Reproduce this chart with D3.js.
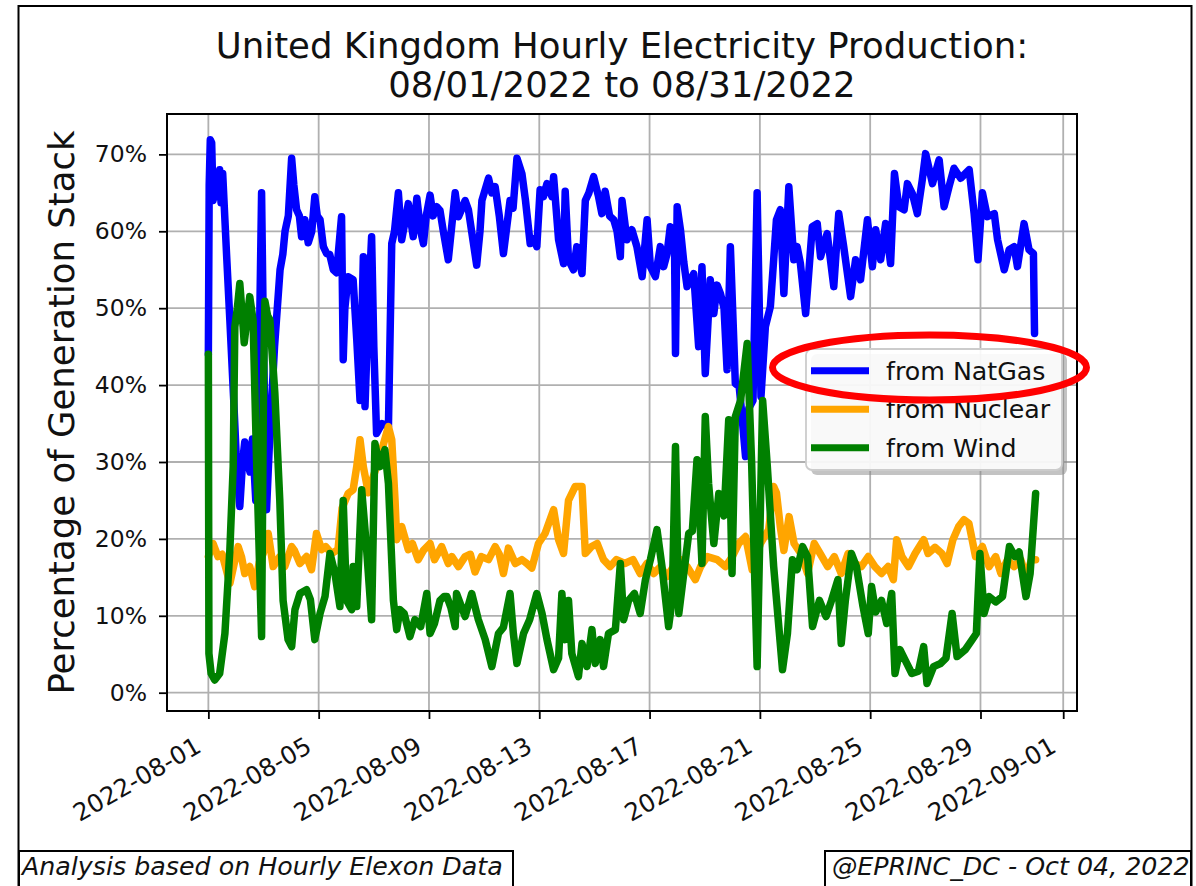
<!DOCTYPE html>
<html>
<head>
<meta charset="utf-8">
<script src="https://cdn.jsdelivr.net/npm/d3@7"></script>
<style>
body { margin: 0; background: #fff; }
svg { display: block; font-family: "DejaVu Sans", sans-serif; }
</style>
</head>
<body>
<script>

// [day since 2022-08-01 00:00 UTC, % of generation stack]
var natGas = [[0,44],[0.03,66],[0.07,71.9],[0.12,71.5],[0.17,64],[0.25,67],[0.3,64.5],[0.41,68],[0.46,63.7],[0.52,67.5],[0.66,57],[0.78,48.4],[0.92,38],[1.02,30],[1.14,24.2],[1.24,30],[1.32,32.6],[1.42,30],[1.51,28.7],[1.6,33],[1.72,25],[1.82,38],[1.93,65],[2.0,45],[2.11,23.8],[2.23,33.7],[2.4,45],[2.6,55],[2.7,57],[2.78,60],[2.9,62],[3.02,69.5],[3.1,66],[3.2,62.8],[3.3,62],[3.38,59.3],[3.5,61.5],[3.62,58.5],[3.75,60],[3.86,64.5],[3.95,62],[4.05,61.5],[4.17,58],[4.29,57.1],[4.4,57],[4.53,55],[4.65,54.6],[4.83,61.9],[4.89,43.3],[4.95,50],[5.07,54.1],[5.25,53.7],[5.38,46],[5.5,38],[5.62,56.7],[5.68,37.2],[5.8,50],[5.92,59.3],[6.0,45],[6.1,33.7],[6.3,35],[6.53,34.6],[6.65,58.4],[6.75,60],[6.89,65],[7.01,58.9],[7.12,61],[7.25,63.6],[7.43,59.3],[7.56,64.3],[7.7,60],[7.8,58.4],[7.9,62],[8.04,64.7],[8.15,62],[8.28,63.2],[8.4,62.7],[8.52,60],[8.7,56.3],[8.95,65],[9.07,61.9],[9.2,63],[9.31,64],[9.43,62.8],[9.73,55.6],[9.85,60],[9.92,64],[10.16,66.9],[10.28,65],[10.4,65.8],[10.55,62],[10.7,57.1],[10.94,64],[11.05,63],[11.19,69.5],[11.37,67.5],[11.5,64],[11.67,58.4],[11.8,59],[11.91,58],[12.03,65.4],[12.15,64.5],[12.28,66.2],[12.46,64.5],[12.52,67.1],[12.7,58.9],[12.88,55.8],[12.94,65.2],[13.06,56.3],[13.24,55],[13.36,58],[13.55,54.5],[13.67,64],[13.8,65],[13.97,67.1],[14.15,64.5],[14.27,62.3],[14.39,65.2],[14.55,62],[14.7,61.5],[14.82,60],[14.94,56.7],[15.0,64],[15.18,58.9],[15.36,60.2],[15.54,58],[15.73,54.1],[15.91,61.5],[16.03,55.4],[16.21,54.1],[16.39,58],[16.51,55.4],[16.63,57],[16.75,60.6],[16.9,60],[16.94,44.1],[17.0,63.2],[17.12,60.2],[17.24,56],[17.36,52.8],[17.6,54.5],[17.78,45],[17.9,55.4],[18.02,41.5],[18.2,53.7],[18.33,49.3],[18.45,53],[18.57,51.9],[18.7,50],[18.81,42],[18.93,58],[19.11,40.2],[19.25,39.8],[19.35,36],[19.48,30.7],[19.6,37],[19.75,38],[19.9,65],[20.04,38.5],[20.2,47.6],[20.38,50.2],[20.5,56.3],[20.6,61.5],[20.74,62.8],[20.87,51.9],[21.05,65.8],[21.23,56.3],[21.35,58],[21.47,55.8],[21.66,49.3],[21.9,60.6],[22.08,61],[22.2,56.7],[22.44,59.7],[22.68,52.8],[22.86,62.3],[23.04,58],[23.29,51.5],[23.47,56.3],[23.65,53.7],[23.9,61.5],[24.08,55.4],[24.2,60.2],[24.38,56.3],[24.56,61],[24.74,55.8],[24.88,67.5],[25.04,63.2],[25.23,62.8],[25.35,66.2],[25.53,64.9],[25.71,62.3],[25.89,66.7],[26.01,70.1],[26.26,66.2],[26.5,69.3],[26.68,63.2],[26.86,65.8],[27.04,68.2],[27.28,66.9],[27.59,68],[27.77,62.3],[27.91,56.3],[28.07,65],[28.25,61.9],[28.5,62.3],[28.62,58.9],[28.86,55],[29.04,57.6],[29.22,58],[29.34,55.4],[29.58,61],[29.76,57.6],[29.92,57.1],[29.96,46.7]];

var nuclear = [[0,17.7],[0.17,19.4],[0.35,17.7],[0.5,18],[0.65,16],[0.78,14.2],[0.95,17],[1.08,19],[1.2,17.7],[1.32,15.5],[1.5,16.4],[1.68,13.8],[1.85,17],[1.99,18.1],[2.17,20.7],[2.35,16.4],[2.59,17.7],[2.77,16.4],[3.02,19],[3.12,18.5],[3.32,16.8],[3.56,17.7],[3.74,16],[3.92,20.7],[4.11,18.6],[4.25,19],[4.47,18.1],[4.7,18.6],[4.85,24],[5.07,25.9],[5.25,26.4],[5.38,29.4],[5.5,32.9],[5.62,29.4],[5.8,26],[5.98,28.1],[6.22,30.7],[6.53,34.6],[6.65,32.9],[6.77,25],[6.83,19.9],[7.01,21.6],[7.25,18.6],[7.4,19.4],[7.61,17.3],[7.8,18.5],[8.04,19.4],[8.2,17.3],[8.46,19],[8.7,16.8],[8.83,17.7],[9.07,16.4],[9.31,17.7],[9.5,18],[9.67,15.7],[9.9,17.7],[10.16,17.3],[10.4,19],[10.55,18],[10.7,15.5],[10.88,18.8],[11.13,16.8],[11.37,17.3],[11.55,16.8],[11.73,16.2],[11.97,19.4],[12.21,20.7],[12.52,23.8],[12.7,19.9],[12.88,18.1],[13.06,25],[13.3,26.8],[13.55,26.8],[13.67,18.1],[13.9,19],[14.1,19.4],[14.33,17.3],[14.57,16.4],[14.8,17.3],[15.1,16.8],[15.4,17.3],[15.66,15.5],[15.9,16.8],[16.15,15.5],[16.4,16.4],[16.63,15.1],[16.87,16.4],[17.12,17.3],[17.36,16.4],[17.66,14.7],[17.85,16.4],[18.09,17.7],[18.45,17.3],[18.75,16.4],[19.0,17.7],[19.23,19.4],[19.48,20.3],[19.72,16],[20.02,19.4],[20.32,21.2],[20.5,26.8],[20.6,26],[20.74,21.6],[20.87,18.5],[21.06,22.9],[21.24,19.4],[21.5,18],[21.73,15.5],[21.97,19.4],[22.2,18],[22.46,16.4],[22.7,17.7],[22.95,15.5],[23.2,18.1],[23.44,16.8],[23.68,16.4],[23.93,17.7],[24.17,16.4],[24.41,15.5],[24.65,16.4],[24.84,14.7],[24.96,19.9],[25.15,17.7],[25.39,16.4],[25.63,18.1],[25.94,19.9],[26.1,18.1],[26.35,18.9],[26.6,18.1],[26.79,16.8],[27.0,19.9],[27.21,21.6],[27.4,22.5],[27.58,22],[27.82,17.7],[28.07,19],[28.31,16.4],[28.55,17.7],[28.74,15.5],[28.98,17.3],[29.22,16.4],[29.46,17.3],[29.65,15.1],[29.85,17.3],[30,17.3]];

var wind = [[0,44],[0.02,5.1],[0.1,2.5],[0.23,1.65],[0.41,2.5],[0.6,7.7],[0.78,18.6],[0.9,29.4],[0.96,47.6],[1.05,50],[1.14,53.2],[1.26,47.6],[1.3,45.5],[1.5,51.5],[1.62,48.5],[1.75,30],[1.87,15],[1.93,7.3],[2.0,40],[2.05,50.9],[2.15,49],[2.23,48.5],[2.41,39],[2.59,25],[2.71,12],[2.89,6.9],[3.02,6],[3.14,10.8],[3.32,12.9],[3.56,13.4],[3.7,12.1],[3.86,6.9],[4.05,10.3],[4.23,12.5],[4.41,18.1],[4.59,15.5],[4.77,11.2],[4.89,25],[5.01,12],[5.2,10.8],[5.25,16.4],[5.38,11.2],[5.56,26.4],[5.74,18.6],[5.92,9.5],[6.04,32.4],[6.22,29.4],[6.4,31.6],[6.53,27.2],[6.71,12],[6.83,8.2],[6.95,10.8],[7.1,10.3],[7.31,7.3],[7.49,9.5],[7.7,8.6],[7.92,12.9],[8.04,7.7],[8.2,9],[8.4,12],[8.55,12.5],[8.65,12.5],[8.8,11],[8.95,8.6],[9.0,12.9],[9.31,9.9],[9.55,12.9],[9.79,9.5],[10.04,6.9],[10.28,3.4],[10.52,7.7],[10.7,8.5],[10.94,12.9],[11.06,7.7],[11.19,3.8],[11.43,7.7],[11.65,9.5],[11.91,12.9],[12.1,10.3],[12.28,6.9],[12.52,3],[12.7,4.5],[12.82,12.9],[12.94,6.9],[13.06,12],[13.18,5.1],[13.42,2.1],[13.55,6.4],[13.73,3.4],[13.91,8.2],[14.03,3.8],[14.21,6.9],[14.33,3.4],[14.51,7.7],[14.76,8.2],[14.94,16.8],[15.06,9.5],[15.24,12],[15.45,12.9],[15.66,10.3],[15.85,14.7],[16.03,17.3],[16.27,21.2],[16.45,16.4],[16.69,8.6],[16.82,12],[16.94,32],[17.06,10.3],[17.24,15.5],[17.42,20.7],[17.55,21],[17.72,30.3],[17.9,16.8],[18.02,35.9],[18.14,27.2],[18.33,19.4],[18.51,25.9],[18.7,23],[18.87,35.5],[18.99,15.5],[19.11,35.9],[19.3,38],[19.54,45.4],[19.7,30],[19.9,3.4],[20.1,38],[20.27,29.4],[20.5,16.4],[20.82,3],[21.0,7.7],[21.18,17.3],[21.35,16],[21.55,19],[21.73,17.7],[21.91,8.6],[22.16,12],[22.4,9.9],[22.6,12],[22.83,14.7],[22.95,6.4],[23.1,12],[23.32,18.1],[23.5,16.4],[23.74,11.2],[23.93,7.7],[24.05,13.8],[24.2,10.5],[24.41,12],[24.6,9],[24.78,12.9],[24.9,2.5],[25.08,5.6],[25.3,4],[25.51,2.5],[25.75,2.8],[25.94,6],[26.06,1.2],[26.3,3.4],[26.55,3.8],[26.75,4.5],[26.97,10.3],[27.15,4.7],[27.45,5.6],[27.7,6.9],[27.85,7.7],[27.98,18.1],[28.13,10.3],[28.31,12.5],[28.55,11.8],[28.8,12.5],[29.05,19],[29.25,17.7],[29.4,18.3],[29.65,12.5],[29.8,15.5],[30,25.9]];

var seriesNames = ["from NatGas", "from Nuclear", "from Wind"];
var seriesColors = ["#0000ff", "#ffa500", "#008000"];
var xTicks = ["2022-08-01", "2022-08-05", "2022-08-09", "2022-08-13", "2022-08-17", "2022-08-21", "2022-08-25", "2022-08-29", "2022-09-01"];
var yTicks = [0, 10, 20, 30, 40, 50, 60, 70];
var titleLines = ["United Kingdom Hourly Electricity Production:", "08/01/2022 to 08/31/2022"];

var W = 1196, H = 886;
var plotLeft = 167, plotRight = 1077, plotTop = 114, plotBottom = 711;
var start = Date.UTC(2022, 7, 1);
var day = 86400000;
var toDate = function(d) { return new Date(start + d * day); };

var svg = d3.select("body").append("svg")
  .attr("width", W)
  .attr("height", H);

svg.append("rect").attr("width", W).attr("height", H).attr("fill", "#fff");

var x = d3.scaleUtc()
  .domain([toDate(-1.5), toDate(31.5)])
  .range([plotLeft, plotRight]);
var y = d3.scaleLinear()
  .domain([-2.38, 75.25])
  .range([plotBottom, plotTop]);

var parse = d3.utcParse("%Y-%m-%d");
var tickDates = xTicks.map(parse);

// grid
svg.append("g").selectAll("line").data(tickDates).join("line")
  .attr("x1", function(d) { return x(d); }).attr("x2", function(d) { return x(d); })
  .attr("y1", plotTop).attr("y2", plotBottom)
  .attr("stroke", "#b0b0b0").attr("stroke-width", 1.8);
svg.append("g").selectAll("line").data(yTicks).join("line")
  .attr("x1", plotLeft).attr("x2", plotRight)
  .attr("y1", function(d) { return y(d); }).attr("y2", function(d) { return y(d); })
  .attr("stroke", "#b0b0b0").attr("stroke-width", 1.8);

// lines
var line = d3.line()
  .x(function(d) { return x(toDate(d[0])); })
  .y(function(d) { return y(d[1]); });

[natGas, nuclear, wind].forEach(function(s, i) {
  svg.append("path")
    .datum(s)
    .attr("d", line)
    .attr("fill", "none")
    .attr("stroke", seriesColors[i])
    .attr("stroke-width", 7.5)
    .attr("stroke-linejoin", "round")
    .attr("stroke-linecap", "round");
});

// axes
var xAxis = svg.append("g")
  .attr("transform", "translate(0," + plotBottom + ")")
  .call(d3.axisBottom(x).tickValues(tickDates).tickFormat(d3.utcFormat("%Y-%m-%d")).tickSize(8));
xAxis.select(".domain").remove();
xAxis.selectAll(".tick line").attr("stroke", "#000").attr("stroke-width", 1.8);
xAxis.selectAll(".tick text")
  .attr("x", 0).attr("y", 0).attr("dy", null)
  .attr("text-anchor", "end")
  .attr("transform", "translate(-6,40) rotate(-30)")
  .attr("font-size", 24.5)
  .attr("font-family", "DejaVu Sans")
  .attr("fill", "#111");

var yAxis = svg.append("g")
  .attr("transform", "translate(" + plotLeft + ",0)")
  .call(d3.axisLeft(y).tickValues(yTicks).tickFormat(function(d) { return d + "%"; }).tickSize(8).tickPadding(12));
yAxis.select(".domain").remove();
yAxis.selectAll(".tick line").attr("stroke", "#000").attr("stroke-width", 1.8);
yAxis.selectAll(".tick text")
  .attr("font-size", 23.5)
  .attr("font-family", "DejaVu Sans")
  .attr("fill", "#111");

// spines
svg.append("rect")
  .attr("x", plotLeft).attr("y", plotTop)
  .attr("width", plotRight - plotLeft).attr("height", plotBottom - plotTop)
  .attr("fill", "none").attr("stroke", "#000").attr("stroke-width", 2);

// title
svg.append("g").selectAll("text").data(titleLines).join("text")
  .attr("x", (plotLeft + plotRight) / 2)
  .attr("y", function(d, i) { return 58 + i * 39; })
  .attr("text-anchor", "middle")
  .attr("font-size", 35.5)
  .attr("fill", "#111")
  .text(function(d) { return d; });

// y label
svg.append("text")
  .attr("transform", "translate(74," + ((plotTop + plotBottom) / 2) + ") rotate(-90)")
  .attr("text-anchor", "middle")
  .attr("font-size", 35.5)
  .attr("fill", "#111")
  .text("Percentage of Generation Stack");

// legend
var lg = svg.append("g");
lg.append("rect")
  .attr("x", 811).attr("y", 354).attr("width", 256).attr("height", 121).attr("rx", 6)
  .attr("fill", "#888").attr("opacity", 0.5);
lg.append("rect")
  .attr("x", 806).attr("y", 349).attr("width", 256).attr("height", 121).attr("rx", 6)
  .attr("fill", "#fff").attr("fill-opacity", 0.9)
  .attr("stroke", "#cccccc").attr("stroke-width", 1.8);
var item = lg.selectAll("g.item").data(seriesNames).join("g")
  .attr("class", "item")
  .attr("transform", function(d, i) { return "translate(0," + (370.7 + i * 38.5) + ")"; });
item.append("line")
  .attr("x1", 811).attr("x2", 869)
  .attr("stroke", function(d, i) { return seriesColors[i]; })
  .attr("stroke-width", 7);
item.append("text")
  .attr("x", 886).attr("y", 9)
  .attr("font-size", 25.3)
  .attr("fill", "#111")
  .text(function(d) { return d; });

// red highlight
svg.append("ellipse")
  .attr("cx", 929.5).attr("cy", 367.5).attr("rx", 157).attr("ry", 32.5)
  .attr("fill", "none").attr("stroke", "#ff0000").attr("stroke-width", 7);

// frame and notes
svg.append("rect")
  .attr("x", 18.5).attr("y", 6).attr("width", 1173).attr("height", 900)
  .attr("fill", "none").attr("stroke", "#000").attr("stroke-width", 2);

svg.append("rect")
  .attr("x", 19).attr("y", 851).attr("width", 494).attr("height", 50)
  .attr("fill", "#fff").attr("stroke", "#000").attr("stroke-width", 2);
svg.append("text")
  .attr("x", 22).attr("y", 875)
  .attr("font-size", 25.3).attr("font-style", "italic").attr("fill", "#111")
  .text("Analysis based on Hourly Elexon Data");

svg.append("rect")
  .attr("x", 825).attr("y", 851).attr("width", 366).attr("height", 50)
  .attr("fill", "#fff").attr("stroke", "#000").attr("stroke-width", 2);
svg.append("text")
  .attr("x", 832).attr("y", 875)
  .attr("font-size", 25.3).attr("font-style", "italic").attr("fill", "#111")
  .text("@EPRINC_DC - Oct 04, 2022");

</script>
</body>
</html>
